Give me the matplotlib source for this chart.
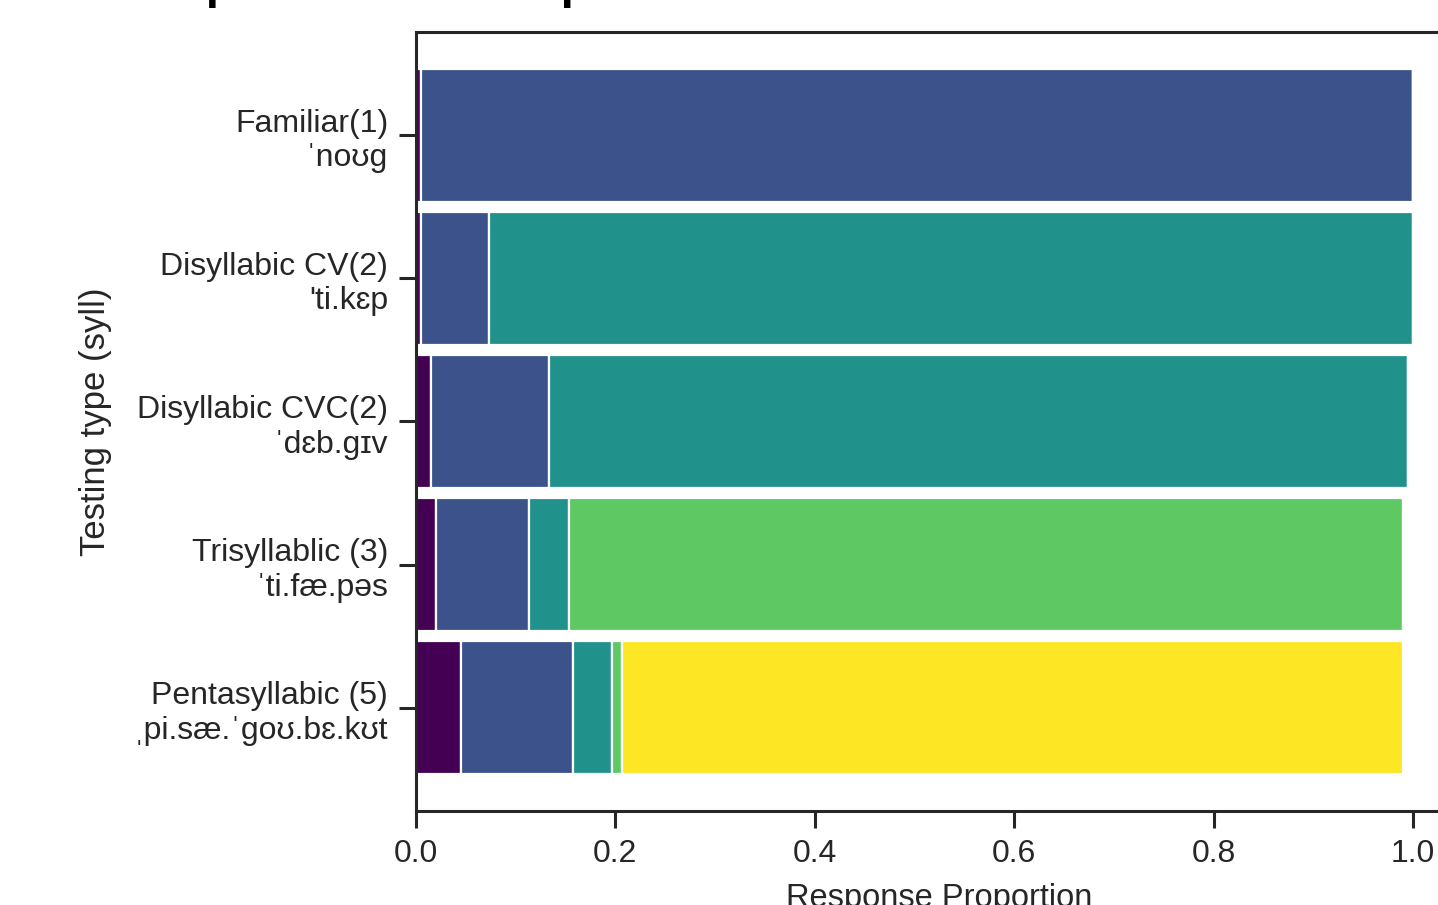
import matplotlib
import matplotlib.pyplot as plt
import numpy as np

matplotlib.use('agg')

# testing types (top to bottom) with their IPA forms
types = ["Familiar(1)\nˈnoʊg",
         "Disyllabic CV(2)\n'ti.kɛp",
         "Disyllabic CVC(2)\nˈdɛb.gɪv",
         "Trisyllablic (3)\nˈti.fæ.pəs",
         "Pentasyllabic (5)\nˌpi.sæ.ˈgoʊ.bɛ.kʊt"]

# response proportion per number of syllables given (1..5)
resp_1 = [0.005, 0.005, 0.0155, 0.020, 0.045]
resp_2 = [0.995, 0.0687, 0.1175, 0.0933, 0.1125]
resp_3 = [0.0, 0.9263, 0.862, 0.0397, 0.0395]
resp_4 = [0.0, 0.0, 0.0, 0.837, 0.0096]
resp_5 = [0.0, 0.0, 0.0, 0.0, 0.7834]
series = [resp_1, resp_2, resp_3, resp_4, resp_5]
colors = ["#440154", "#3b528b", "#21918c", "#5ec962", "#fde725"]

plt.rcParams['font.family'] = ['Liberation Sans', 'DejaVu Sans']
ink = "#262626"

fig = plt.figure(figsize=(14.38, 9.05), dpi=100)
ax = fig.add_axes([416 / 1438, (905 - 811) / 905, 1047 / 1438, 779 / 905])

y = np.arange(len(types))
left = np.zeros(len(types))
for vals, c in zip(series, colors):
    vals = np.array(vals)
    ax.barh(y, vals, left=left, height=0.93, color=c,
            edgecolor="white", linewidth=1.6)
    left += vals

ax.set_xlim(0, 1.05)
ax.set_ylim(4.72, -0.72)
ax.set_yticks(y)
ax.set_yticklabels(types)
ax.set_xticks([0.0, 0.2, 0.4, 0.6, 0.8, 1.0])
ax.set_xticklabels(["0.0", "0.2", "0.4", "0.6", "0.8", "1.0"])

for s in ax.spines.values():
    s.set_linewidth(2.2)
    s.set_color(ink)
ax.tick_params(length=12, width=2.2, colors=ink, labelsize=23, pad=8)
ax.set_xlabel("Response Proportion", fontsize=23.5, color=ink, labelpad=10)
ax.set_ylabel("Testing type (syll)", fontsize=25, color=ink, labelpad=16)

fig.text(101 / 1438, 1 + 2 / 905, "Comprehension Responses", fontsize=34,
         fontweight="bold", color="black", va="baseline", ha="left")

fig.savefig("out.png", dpi=100)
